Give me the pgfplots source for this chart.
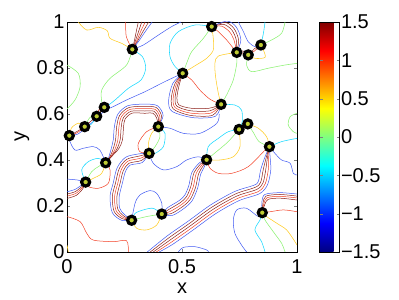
\documentclass[border=0pt]{standalone}
\usepackage{fontspec}
\setmainfont{Liberation Sans}
\usepackage{pgfplots}
\pgfplotsset{compat=1.18}
\definecolor{cB}{rgb}{0.25,0.35,0.95}
\definecolor{cDB}{rgb}{0.15,0.15,0.65}
\definecolor{cC}{rgb}{0.1,0.85,1}
\definecolor{cG}{rgb}{0.55,0.95,0.45}
\definecolor{cY}{rgb}{1,0.8,0.15}
\definecolor{cR}{rgb}{0.95,0.25,0.15}
\definecolor{cD}{rgb}{0.55,0.12,0.1}
\definecolor{mk}{rgb}{0.75,0.8,0.2}
\pgfplotsset{
 lb/.style={color=cB,smooth,line width=0.5bp},
 ldb/.style={color=cDB,smooth,line width=0.5bp},
 lc/.style={color=cC,smooth,line width=0.55bp},
 lg/.style={color=cG,smooth,line width=0.55bp},
 ly/.style={color=cY,smooth,line width=0.55bp},
 lr/.style={color=cR,smooth,line width=0.5bp},
 ld/.style={color=cD,smooth,line width=0.5bp},
}
\begin{document}
\begin{tikzpicture}
\useasboundingbox (0,0) rectangle (399bp,300bp);
\begin{axis}[
  at={(67bp,48bp)}, anchor=south west,
  width=230bp, height=230bp, scale only axis,
  xmin=0,xmax=1,ymin=0,ymax=1,
  xtick={0,0.5,1}, ytick={0,0.2,0.4,0.6,0.8,1},
  tick align=inside, major tick length=3bp,
  font=\fontsize{20bp}{23bp}\selectfont,
  /pgf/number format/assume math mode=true,
  xlabel={x}, ylabel={y},
  xlabel style={at={(axis description cs:0.5,-0.157)},anchor=center},
  ylabel style={at={(axis description cs:-0.196,0.5)},anchor=center},
  xticklabel style={yshift=-4bp},
  yticklabel style={xshift=1bp},
  colorbar, colormap/jet, point meta min=-1.5, point meta max=1.5,
  colorbar style={width=20bp, at={(parent axis.north east)}, anchor=north west, xshift=14bp,
    ytick={-1.5,-1,-0.5,0,0.5,1,1.5}, yticklabels={−1.5,−1,−0.5,0,0.5,1,1.5},
    tick align=inside, major tick length=3bp,
    yticklabel style={font=\fontsize{20bp}{23bp}\selectfont, xshift=-2bp}},
]
% top-left
\addplot[ly] coordinates {(0.049,1.0)(0.086,0.965)(0.136,0.977)(0.175,0.962)(0.187,0.929)(0.238,0.907)(0.284,0.881)};
\addplot[lg] coordinates {(0,0.813)(0.049,0.777)(0.057,0.719)(0.035,0.661)(0,0.622)};
\addplot[lg] coordinates {(0.284,0.881)(0.259,0.813)(0.187,0.755)(0.151,0.704)(0.151,0.654)(0.162,0.629)};
\addplot[lc] coordinates {(0.284,0.881)(0.328,0.849)(0.342,0.799)(0.322,0.748)(0.267,0.712)(0.209,0.661)(0.172,0.632)};
\addplot[lb] coordinates {(0.284,0.881)(0.332,0.9)(0.397,0.943)(0.455,0.980)(0.496,1.0)};
\addplot[lr] coordinates {(0.284,0.881)(0.258,0.936)(0.255,1.0)};
\addplot[ld] coordinates {(0.284,0.881)(0.292,0.914)(0.301,0.958)(0.310,1.0)};
\addplot[ld] coordinates {(0.284,0.881)(0.296,0.914)(0.311,0.958)(0.325,1.0)};
\addplot[lr] coordinates {(0.284,0.881)(0.301,0.914)(0.320,0.958)(0.340,1.0)};
\addplot[ld] coordinates {(0.284,0.881)(0.305,0.914)(0.330,0.958)(0.355,1.0)};
\addplot[lb] coordinates {(0.284,0.881)(0.310,0.914)(0.340,0.958)(0.370,1.0)};
\addplot[lb] coordinates {(0.503,0.777)(0.426,0.741)(0.339,0.697)(0.259,0.661)(0.201,0.632)(0.172,0.62)};
% top centre / right
\addplot[lc] coordinates {(0.629,0.980)(0.557,0.987)(0.484,0.958)(0.448,0.907)(0.448,0.849)(0.47,0.806)(0.503,0.777)};
\addplot[lg] coordinates {(0.629,0.980)(0.593,0.929)(0.542,0.871)(0.52,0.82)(0.503,0.777)};
\addplot[ly] coordinates {(0.629,0.980)(0.636,0.929)(0.636,0.878)(0.607,0.842)(0.557,0.81)(0.503,0.777)};
\addplot[lr] coordinates {(0.629,0.980)(0.658,0.958)(0.694,0.922)(0.723,0.886)(0.738,0.868)};
\addplot[lr] coordinates {(0.629,0.980)(0.672,0.982)(0.706,0.958)(0.726,0.922)(0.738,0.868)};
\addplot[ld] coordinates {(0.629,0.980)(0.680,0.990)(0.716,0.966)(0.736,0.922)(0.738,0.868)};
\addplot[ld] coordinates {(0.629,0.980)(0.688,0.998)(0.726,0.972)(0.746,0.922)(0.738,0.868)};
\addplot[lb] coordinates {(0.629,0.980)(0.696,1.004)(0.736,0.978)(0.756,0.922)(0.738,0.868)};
\addplot[lb] coordinates {(0.745,1.0)(0.767,0.958)(0.788,0.914)(0.817,0.893)(0.843,0.9)};
\addplot[ld] coordinates {(0.738,0.868)(0.765,0.874)(0.788,0.857)(0.815,0.884)(0.843,0.9)};
\addplot[lr] coordinates {(0.738,0.868)(0.765,0.864)(0.788,0.857)(0.815,0.874)(0.843,0.9)};
\addplot[lc] coordinates {(0.861,1.0)(0.854,0.951)(0.843,0.9)};
\addplot[lg] coordinates {(0.843,0.9)(0.89,0.922)(0.933,0.951)(0.948,1.0)};
\addplot[ly] coordinates {(0.788,0.857)(0.817,0.842)(0.861,0.846)(0.854,0.878)(0.843,0.9)};
\addplot[lg] coordinates {(0.788,0.857)(0.781,0.813)(0.803,0.784)(0.875,0.799)(0.948,0.813)(1,0.82)};
\addplot[ly] coordinates {(0.738,0.868)(0.658,0.852)(0.643,0.82)(0.646,0.762)(0.658,0.69)(0.67,0.642)};
\addplot[lg] coordinates {(0.738,0.868)(0.738,0.82)(0.723,0.748)(0.694,0.683)(0.67,0.642)};
\addplot[lr] coordinates {(0.503,0.777)(0.542,0.748)(0.578,0.704)(0.622,0.664)(0.67,0.642)};
\addplot[ld] coordinates {(0.503,0.777)(0.488,0.727)(0.478,0.672)(0.486,0.64)(0.54,0.625)(0.618,0.625)(0.67,0.642)};
\addplot[ld] coordinates {(0.503,0.777)(0.482,0.729)(0.47,0.672)(0.478,0.634)(0.538,0.614)(0.622,0.614)(0.67,0.642)};
\addplot[lr] coordinates {(0.503,0.777)(0.476,0.731)(0.462,0.672)(0.47,0.628)(0.536,0.604)(0.626,0.604)(0.67,0.642)};
\addplot[ld] coordinates {(0.503,0.777)(0.47,0.733)(0.454,0.672)(0.462,0.622)(0.536,0.594)(0.632,0.594)(0.67,0.642)};
\addplot[lb] coordinates {(0.503,0.777)(0.46,0.733)(0.442,0.66)(0.456,0.612)(0.549,0.584)(0.645,0.59)(0.67,0.642)};
\addplot[lc] coordinates {(0.67,0.642)(0.73,0.639)(0.759,0.617)(0.762,0.567)(0.748,0.533)};
\addplot[lb] coordinates {(0.397,0.545)(0.448,0.538)(0.506,0.516)(0.578,0.516)(0.651,0.559)(0.662,0.6)};
% right middle
\addplot[lg] coordinates {(1,0.603)(0.97,0.588)(0.962,0.552)(0.984,0.523)(1,0.516)};
\addplot[lc] coordinates {(0.88,0.458)(0.933,0.48)(1,0.494)};
\addplot[ly] coordinates {(0.786,0.557)(0.832,0.538)(0.868,0.501)(0.88,0.458)};
\addplot[lg] coordinates {(0.786,0.557)(0.81,0.52)(0.835,0.48)(0.88,0.458)};
\addplot[lc] coordinates {(0.607,0.401)(0.614,0.458)(0.658,0.494)(0.701,0.523)(0.748,0.533)};
\addplot[lg] coordinates {(0.607,0.401)(0.658,0.443)(0.701,0.48)(0.748,0.533)};
\addplot[ly] coordinates {(0.607,0.401)(0.665,0.4)(0.723,0.414)(0.752,0.458)(0.748,0.533)};
\addplot[lr] coordinates {(0.607,0.401)(0.622,0.364)(0.658,0.342)(0.716,0.342)(0.788,0.371)(0.861,0.443)(0.88,0.458)};
\addplot[lb] coordinates {(0.88,0.458)(0.904,0.429)(0.933,0.4)(0.97,0.386)(0.984,0.342)(1,0.335)};
% bundle D
\addplot[lb] coordinates {(0.88,0.458)(0.861,0.414)(0.842,0.357)(0.832,0.307)(0.812,0.29)(0.729,0.263)(0.625,0.205)(0.524,0.132)(0.437,0.071)(0.349,0)};
\addplot[ld] coordinates {(0.88,0.458)(0.867,0.414)(0.853,0.357)(0.842,0.303)(0.818,0.281)(0.734,0.253)(0.63,0.195)(0.529,0.122)(0.442,0.061)(0.362,0)};
\addplot[ld] coordinates {(0.88,0.458)(0.872,0.414)(0.864,0.357)(0.852,0.3)(0.825,0.272)(0.738,0.243)(0.636,0.186)(0.535,0.113)(0.448,0.052)(0.375,0)};
\addplot[lr] coordinates {(0.88,0.458)(0.877,0.414)(0.875,0.357)(0.862,0.297)(0.832,0.263)(0.742,0.233)(0.642,0.177)(0.541,0.104)(0.454,0.043)(0.388,0)};
\addplot[lb] coordinates {(0.88,0.458)(0.883,0.414)(0.886,0.357)(0.872,0.293)(0.838,0.254)(0.747,0.223)(0.647,0.167)(0.546,0.094)(0.459,0.033)(0.401,0)};
% bundle E and M22
\addplot[lb] coordinates {(0.849,0.171)(0.847,0.214)(0.86,0.25)(0.926,0.258)(1,0.252)};
\addplot[ld] coordinates {(0.849,0.171)(0.852,0.212)(0.865,0.243)(0.926,0.25)(1,0.243)};
\addplot[lr] coordinates {(0.849,0.171)(0.856,0.21)(0.87,0.236)(0.926,0.242)(1,0.235)};
\addplot[ld] coordinates {(0.849,0.171)(0.86,0.207)(0.875,0.229)(0.926,0.234)(1,0.226)};
\addplot[lr] coordinates {(0.849,0.171)(0.883,0.175)(0.941,0.183)(1,0.175)};
\addplot[ly] coordinates {(0.849,0.171)(0.868,0.154)(0.912,0.125)(0.955,0.096)(0.991,0.045)(1,0.03)};
\addplot[lg] coordinates {(0.849,0.171)(0.861,0.139)(0.897,0.088)(0.933,0.038)(0.948,0)};
\addplot[lc] coordinates {(0.849,0.171)(0.839,0.139)(0.817,0.096)(0.846,0.045)(0.861,0)};
\addplot[lb] coordinates {(0.849,0.171)(0.832,0.154)(0.781,0.19)(0.738,0.183)(0.723,0.139)(0.73,0.081)(0.759,0.03)(0.781,0)};
% bundle C
\addplot[lb] coordinates {(0.412,0.165)(0.458,0.159)(0.511,0.191)(0.544,0.223)(0.568,0.278)(0.581,0.338)(0.596,0.368)(0.607,0.401)};
\addplot[ld] coordinates {(0.412,0.165)(0.453,0.167)(0.505,0.199)(0.536,0.229)(0.559,0.281)(0.572,0.34)(0.591,0.373)(0.607,0.401)};
\addplot[lr] coordinates {(0.412,0.165)(0.448,0.176)(0.499,0.207)(0.528,0.235)(0.549,0.284)(0.562,0.342)(0.586,0.378)(0.607,0.401)};
\addplot[ld] coordinates {(0.412,0.165)(0.443,0.185)(0.493,0.215)(0.52,0.241)(0.539,0.287)(0.552,0.344)(0.581,0.383)(0.607,0.401)};
\addplot[lb] coordinates {(0.412,0.165)(0.438,0.193)(0.487,0.223)(0.512,0.247)(0.53,0.29)(0.543,0.346)(0.576,0.388)(0.607,0.401)};
% bundle A
\addplot[lb] coordinates {(0.397,0.545)(0.418,0.594)(0.393,0.636)(0.339,0.643)(0.264,0.636)(0.221,0.599)(0.206,0.545)(0.201,0.487)(0.189,0.437)(0.178,0.402)(0.168,0.39)};
\addplot[ld] coordinates {(0.397,0.545)(0.411,0.591)(0.388,0.628)(0.339,0.633)(0.269,0.628)(0.229,0.594)(0.216,0.545)(0.211,0.487)(0.198,0.44)(0.181,0.404)(0.168,0.39)};
\addplot[lr] coordinates {(0.397,0.545)(0.404,0.588)(0.383,0.62)(0.339,0.623)(0.274,0.62)(0.237,0.589)(0.226,0.545)(0.221,0.487)(0.207,0.443)(0.185,0.407)(0.168,0.39)};
\addplot[ld] coordinates {(0.397,0.545)(0.397,0.585)(0.378,0.612)(0.339,0.613)(0.279,0.612)(0.245,0.584)(0.236,0.545)(0.231,0.487)(0.216,0.446)(0.188,0.41)(0.168,0.39)};
\addplot[ld] coordinates {(0.397,0.545)(0.39,0.582)(0.373,0.604)(0.339,0.603)(0.284,0.604)(0.253,0.579)(0.246,0.545)(0.241,0.487)(0.225,0.449)(0.192,0.413)(0.168,0.39)};
% bundle B
\addplot[lb] coordinates {(0.357,0.429)(0.327,0.389)(0.275,0.378)(0.254,0.35)(0.241,0.3)(0.227,0.241)(0.229,0.191)(0.249,0.164)(0.281,0.138)};
\addplot[ld] coordinates {(0.357,0.429)(0.324,0.398)(0.27,0.386)(0.245,0.354)(0.231,0.3)(0.217,0.241)(0.221,0.186)(0.246,0.157)(0.281,0.138)};
\addplot[lr] coordinates {(0.357,0.429)(0.321,0.408)(0.265,0.395)(0.236,0.358)(0.221,0.3)(0.207,0.241)(0.213,0.181)(0.243,0.151)(0.281,0.138)};
\addplot[ld] coordinates {(0.357,0.429)(0.318,0.418)(0.26,0.403)(0.227,0.362)(0.211,0.3)(0.197,0.241)(0.205,0.176)(0.24,0.145)(0.281,0.138)};
\addplot[lb] coordinates {(0.357,0.429)(0.315,0.427)(0.255,0.412)(0.218,0.366)(0.201,0.3)(0.187,0.241)(0.197,0.171)(0.237,0.138)(0.281,0.138)};
% bundle F
\addplot[lb] coordinates {(0,0.262)(0.035,0.272)(0.062,0.29)(0.081,0.304)};
\addplot[ld] coordinates {(0,0.252)(0.035,0.262)(0.064,0.284)(0.081,0.304)};
\addplot[lr] coordinates {(0,0.243)(0.037,0.254)(0.066,0.279)(0.081,0.304)};
\addplot[ld] coordinates {(0,0.233)(0.04,0.246)(0.068,0.274)(0.081,0.304)};
% bottom-left
\addplot[lr] coordinates {(0,0.154)(0.057,0.132)(0.086,0.081)(0.114,0.052)(0.201,0.045)(0.259,0.049)(0.267,0)};
\addplot[ly] coordinates {(0,0.03)(0.006,0)};
\addplot[lb] coordinates {(0.484,0)(0.506,0.02)(0.557,0.023)(0.607,0.009)(0.615,0)};
% M20/M21
\addplot[lb] coordinates {(0.281,0.138)(0.296,0.212)(0.317,0.248)(0.361,0.267)(0.39,0.255)(0.412,0.212)(0.412,0.165)};
\addplot[lc] coordinates {(0.281,0.138)(0.296,0.168)(0.332,0.183)(0.375,0.19)(0.412,0.165)};
\addplot[lg] coordinates {(0.281,0.138)(0.346,0.154)(0.412,0.165)};
\addplot[ly] coordinates {(0.281,0.138)(0.303,0.103)(0.346,0.096)(0.39,0.117)(0.412,0.165)};
% M18/M19
\addplot[lc] coordinates {(0.081,0.304)(0.064,0.357)(0.093,0.393)(0.136,0.407)(0.168,0.39)};
\addplot[lg] coordinates {(0.081,0.304)(0.107,0.349)(0.136,0.371)(0.168,0.39)};
\addplot[ly] coordinates {(0.081,0.304)(0.114,0.32)(0.151,0.342)(0.168,0.39)};
\addplot[lr] coordinates {(0.168,0.39)(0.187,0.357)(0.18,0.299)(0.136,0.277)(0.093,0.284)(0.081,0.304)};
\addplot[lb] coordinates {(0.01,0.506)(0.013,0.48)(0.035,0.443)(0.071,0.451)(0.114,0.458)(0.143,0.443)(0.168,0.39)};
\addplot[lb] coordinates {(0,0.317)(0.045,0.313)(0.081,0.304)};
% M12/M15
\addplot[lr] coordinates {(0.397,0.545)(0.346,0.523)(0.31,0.472)(0.317,0.436)(0.357,0.429)};
\addplot[ly] coordinates {(0.397,0.545)(0.368,0.516)(0.354,0.472)(0.357,0.429)};
\addplot[lg] coordinates {(0.397,0.545)(0.404,0.501)(0.383,0.458)(0.357,0.429)};
\addplot[lc] coordinates {(0.397,0.545)(0.426,0.516)(0.419,0.458)(0.383,0.429)(0.357,0.429)};
\addplot[lb] coordinates {(0.357,0.429)(0.375,0.386)(0.419,0.357)(0.477,0.371)(0.52,0.4)(0.571,0.414)(0.607,0.401)};
% chain M8-M11
\addplot[ld] coordinates {(0.01,0.506)(0.045,0.525)(0.077,0.545)(0.103,0.568)(0.129,0.59)(0.147,0.612)(0.162,0.629)};
\addplot[lb] coordinates {(0.01,0.506)(0.045,0.512)(0.077,0.535)(0.103,0.558)(0.129,0.58)(0.152,0.603)(0.162,0.629)};
\addplot[lr] coordinates {(0.01,0.506)(0.045,0.519)(0.077,0.545)};
\addplot[ly] coordinates {(0.01,0.506)(0.02,0.54)(0.05,0.56)(0.077,0.545)};
\addplot[lg] coordinates {(0.077,0.545)(0.1,0.585)(0.129,0.59)};
\addplot[lc] coordinates {(0.077,0.545)(0.105,0.555)(0.129,0.59)};
\addplot[lr] coordinates {(0.129,0.59)(0.14,0.62)(0.162,0.629)};
% markers
\addplot[only marks, mark=*, mark size=4bp, mark options={draw=black, line width=3.2bp, fill=mk}] coordinates {
(0.284,0.881)(0.629,0.980)(0.503,0.777)(0.738,0.868)(0.788,0.857)(0.843,0.900)
(0.670,0.642)(0.162,0.629)(0.129,0.590)(0.077,0.545)(0.010,0.506)(0.397,0.545)
(0.748,0.533)(0.786,0.557)(0.357,0.429)(0.607,0.401)(0.880,0.458)(0.168,0.388)
(0.081,0.304)(0.281,0.138)(0.412,0.165)(0.849,0.171)};
\end{axis}
\end{tikzpicture}
\end{document}
